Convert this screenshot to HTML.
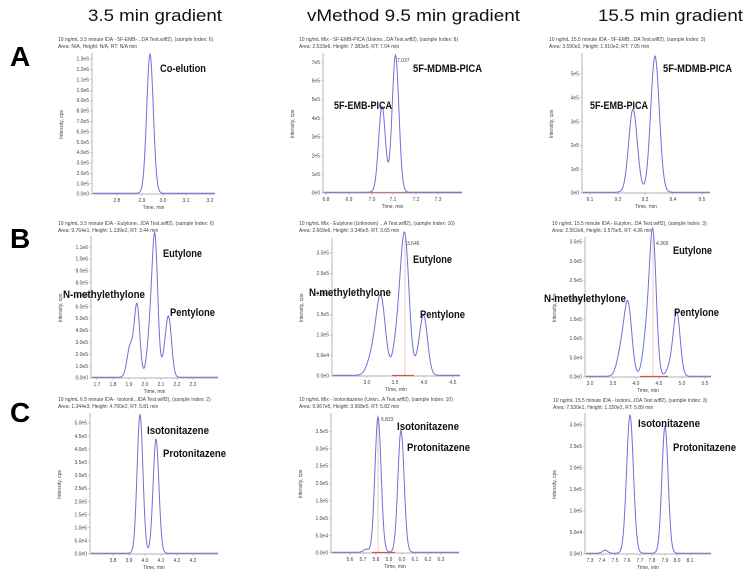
<!DOCTYPE html>
<html><head><meta charset="utf-8">
<style>
html,body{margin:0;padding:0;background:#fff;}
svg{display:block;font-family:"Liberation Sans",sans-serif;}
.t{font-size:17px;fill:#111;}
.L{font-size:28px;font-weight:bold;fill:#000;}
.h{font-size:5px;fill:#444;}
.tk{font-size:5px;fill:#444;}
.lb{font-size:11px;font-weight:bold;fill:#111;}
.sm{font-size:5px;fill:#444;}
</style></head><body>
<svg id="s" width="750" height="576" viewBox="0 0 750 576" xmlns="http://www.w3.org/2000/svg">
<text class="t" x="88" y="21" textLength="134" lengthAdjust="spacingAndGlyphs">3.5 min gradient</text>
<text class="t" x="307" y="21" textLength="213" lengthAdjust="spacingAndGlyphs">vMethod 9.5 min gradient</text>
<text class="t" x="598" y="21" textLength="145" lengthAdjust="spacingAndGlyphs">15.5 min gradient</text>
<text class="L" x="10" y="66">A</text>
<text class="L" x="10" y="248">B</text>
<text class="L" x="10" y="422">C</text>
<g id="g"></g>
</svg>
<script>
var P=[
{x0:92,x1:215,yt:55,yb:194,
 xt:[["2.8",117],["2.9",142],["3.0",163],["3.1",186],["3.2",210]],
 yl:["0.0e0","1.0e5","2.0e5","3.0e5","4.0e5","5.0e5","6.0e5","7.0e5","8.0e5","9.0e5","1.0e6","1.1e6","1.2e6","1.3e6"],ys:135/13,
 pk:[[150,139,3.3]],hx:58,hy:41,
 h1:"10 ng/mL 3.5 minute IDA - 5F-EMB-...DA Test.wiff2), (sample Index: 6)",h2:"Area: N/A, Height: N/A, RT: N/A min",
 lb:[["Co-elution",160,68,46]]},
{x0:323,x1:462,yt:55,yb:193,
 xt:[["6.8",326],["6.9",349],["7.0",372],["7.1",393],["7.2",416],["7.3",438]],
 yl:["0e0","1e5","2e5","3e5","4e5","5e5","6e5","7e5"],ys:18.7,
 pk:[[382,86,3.4],[395.5,137,3.4]],hx:299,hy:41,
 h1:"10 ng/mL Mix - 5F-EMB-PICA (Unkno...DA Test.wiff2), (sample Index: 8)",h2:"Area: 2.533e6, Height: 7.383e5, RT: 7.04 min",
 lb:[["5F-EMB-PICA",334,105,58],["5F-MDMB-PICA",413,68,69]],sm:[["7.037",397,62]],red:1},
{x0:582,x1:710,yt:55,yb:193,
 xt:[["9.1",590],["9.2",618],["9.3",645],["9.4",673],["9.5",702]],
 yl:["0e0","1e5","2e5","3e5","4e5","5e5"],ys:23.8,
 pk:[[633,83,4.3],[655,136,4.3]],hx:549,hy:41,
 h1:"10 ng/mL 15.5 minute IDA - 5F-EMB...DA Test.wiff2), (sample Index: 3)",h2:"Area: 3.590e2, Height: 1.910e2, RT: 7.05 min",
 lb:[["5F-EMB-PICA",590,105,58],["5F-MDMB-PICA",663,68,69]]},
{x0:91,x1:218,yt:238,yb:378,
 xt:[["1.7",97],["1.8",113],["1.9",129],["2.0",145],["2.1",161],["2.2",177],["2.3",193]],
 yl:["0.0e0","1.0e5","2.0e5","3.0e5","4.0e5","5.0e5","6.0e5","7.0e5","8.0e5","9.0e5","1.0e6","1.1e6"],ys:11.9,
 pk:[[137,72,2.8],[130,30,3],[155,133,2.8],[150,42,3],[169,52,2.8],[165,20,3]],hx:58,hy:225,
 h1:"10 ng/mL 3.5 minute IDA - Eutylone...IDA Test.wiff2), (sample Index: 6)",h2:"Area: 9.764e1, Height: 1.139e2, RT: 3.44 min",
 lb:[["N-methylethylone",63,294,82],["Eutylone",163,253,39],["Pentylone",170,312,45]]},
{x0:332,x1:460,yt:240,yb:376,
 xt:[["3.0",367],["3.5",395],["4.0",424],["4.5",453]],
 yl:["0.0e0","5.0e4","1.0e5","1.5e5","2.0e5","2.5e5","3.0e5"],ys:20.5,
 pk:[[381,74,4.5],[373,22,5],[405,130,4.2],[398,40,4.5],[424,53,3.8],[419,14,4]],hx:299,hy:225,
 h1:"10 ng/mL Mix - Eutylone (Unknown) ...A Test.wiff2), (sample Index: 10)",h2:"Area: 2.669e6, Height: 3.346e5, RT: 3.65 min",
 lb:[["N-methylethylone",309,292,82],["Eutylone",413,259,39],["Pentylone",420,314,45]],sm:[["3.646",407,245]],red:2,rl:[392,414,405]},
{x0:585,x1:711,yt:239,yb:377,
 xt:[["3.0",590],["3.5",613],["4.0",636],["4.5",659],["5.0",682],["5.5",705]],
 yl:["0.0e0","5.0e4","1.0e5","1.5e5","2.0e5","2.5e5","3.0e5","3.5e5"],ys:19.3,
 pk:[[628,70,3.8],[621,24,4],[653,134,3.3],[647,44,3.8],[677,58,3.3],[672,14,4]],hx:552,hy:225,
 h1:"10 ng/mL 15.5 minute IDA - Eutylon...DA Test.wiff2), (sample Index: 3)",h2:"Area: 2.552e6, Height: 3.575e5, RT: 4.36 min",
 lb:[["N-methylethylone",544,298,82],["Eutylone",673,250,39],["Pentylone",674,312,45]],sm:[["4.365",656,245]],red:2,rl:[640,668,653]},
{x0:90,x1:218,yt:415,yb:554,
 xt:[["3.8",113],["3.9",129],["4.0",145],["4.1",161],["4.2",177],["4.3",193]],
 yl:["0.0e0","5.0e4","1.0e5","1.5e5","2.0e5","2.5e5","3.0e5","3.5e5","4.0e5","4.5e5","5.0e5"],ys:13.1,
 pk:[[140,139,2.9],[156,114,2.9]],hx:58,hy:401,
 h1:"10 ng/mL 6.5 minute IDA - Isotonit...IDA Test.wiff2), (sample Index: 2)",h2:"Area: 1.344e3, Height: 4.700e2, RT: 5.81 min",
 lb:[["Isotonitazene",147,430,62],["Protonitazene",163,453,63]]},
{x0:331,x1:459,yt:415,yb:553,
 xt:[["5.6",350],["5.7",363],["5.8",376],["5.9",389],["6.0",402],["6.1",415],["6.2",428],["6.3",441]],
 yl:["0.0e0","5.0e4","1.0e5","1.5e5","2.0e5","2.5e5","3.0e5","3.5e5"],ys:17.4,
 pk:[[378,135,3.1],[401,122,3.1],[366,3,2.5]],hx:299,hy:401,
 h1:"10 ng/mL Mix - Isotonitazene (Unkn...A Test.wiff2), (sample Index: 10)",h2:"Area: 9.967e5, Height: 3.968e5, RT: 5.82 min",
 lb:[["Isotonitazene",397,426,62],["Protonitazene",407,447,63]],sm:[["5.823",381,421]],red:2,rl:[372,395,378]},
{x0:585,x1:711,yt:415,yb:554,
 xt:[["7.3",590],["7.4",602],["7.5",615],["7.6",627],["7.7",640],["7.8",652],["7.9",665],["8.0",677],["8.1",690]],
 yl:["0.0e0","5.0e4","1.0e5","1.5e5","2.0e5","2.5e5","3.0e5"],ys:21.5,
 pk:[[630,138,3.4],[665,127,3.1],[605,3,2.5]],hx:553,hy:402,
 h1:"10 ng/mL 15.5 minute IDA - Isotoni...IDA Test.wiff2), (sample Index: 3)",h2:"Area: 7.530e1, Height: 1.150e2, RT: 5.89 min",
 lb:[["Isotonitazene",638,423,62],["Protonitazene",673,447,63]]}
];
var o="";
P.forEach(function(p){
 o+='<text class="h" x="'+p.hx+'" y="'+p.hy+'">'+p.h1.replace(/&/g,'&amp;')+'</text>';
 o+='<text class="h" x="'+p.hx+'" y="'+(p.hy+7)+'">'+p.h2+'</text>';
 o+='<line x1="'+p.x0+'" y1="'+(p.yt-2)+'" x2="'+p.x0+'" y2="'+p.yb+'" stroke="#999" stroke-width="0.7"/>';
 o+='<line x1="'+p.x0+'" y1="'+p.yb+'" x2="'+p.x1+'" y2="'+p.yb+'" stroke="#999" stroke-width="0.7"/>';
 p.yl.forEach(function(l,i){var y=p.yb-i*p.ys;
  o+='<line x1="'+(p.x0-2)+'" y1="'+y+'" x2="'+p.x0+'" y2="'+y+'" stroke="#999" stroke-width="0.5"/>';
  o+='<text class="tk" x="'+(p.x0-3)+'" y="'+(y+1.7)+'" text-anchor="end">'+l+'</text>';});
 p.xt.forEach(function(t){
  o+='<line x1="'+t[1]+'" y1="'+p.yb+'" x2="'+t[1]+'" y2="'+(p.yb+2)+'" stroke="#999" stroke-width="0.5"/>';
  o+='<text class="tk" x="'+t[1]+'" y="'+(p.yb+8)+'" text-anchor="middle">'+t[0]+'</text>';});
 var cx=(p.x0+p.x1)/2;
 o+='<text class="tk" x="'+cx+'" y="'+(p.yb+15)+'" text-anchor="middle">Time, min</text>';
 var my=(p.yt+p.yb)/2;
 o+='<text class="tk" x="'+(p.x0-29)+'" y="'+my+'" text-anchor="middle" transform="rotate(-90 '+(p.x0-29)+' '+my+')">Intensity, cps</text>';
 if(p.red==2){o+='<line x1="'+p.rl[2]+'" y1="'+p.yt+'" x2="'+p.rl[2]+'" y2="'+p.yb+'" stroke="#f0a0a0" stroke-width="0.6"/>';
  o+='<line x1="'+p.rl[0]+'" y1="'+(p.yb-0.6)+'" x2="'+p.rl[1]+'" y2="'+(p.yb-0.6)+'" stroke="#e04040" stroke-width="1"/>';}
 if(p.red==1){o+='<line x1="'+(p.x0+40)+'" y1="'+(p.yb-0.6)+'" x2="'+p.x1+'" y2="'+(p.yb-0.6)+'" stroke="#c07080" stroke-width="1"/>';}
 var d="";
 for(var x=p.x0+1;x<=p.x1;x+=0.5){var v=0;p.pk.forEach(function(k){v+=k[1]*Math.exp(-(x-k[0])*(x-k[0])/(2*k[2]*k[2]));});
  d+=(d?"L":"M")+x.toFixed(1)+" "+(p.yb-0.8-v).toFixed(1);}
 o+='<path d="'+d+'" fill="none" stroke="#7070d8" stroke-width="1"/>';
 p.lb.forEach(function(l){o+='<text class="lb" x="'+l[1]+'" y="'+(l[2]+4)+'" textLength="'+l[3]+'" lengthAdjust="spacingAndGlyphs">'+l[0]+'</text>';});
 (p.sm||[]).forEach(function(s){o+='<text class="sm" x="'+s[1]+'" y="'+s[2]+'">'+s[0]+'</text>';});
});
document.getElementById("g").innerHTML=o;
</script>
</body></html>
